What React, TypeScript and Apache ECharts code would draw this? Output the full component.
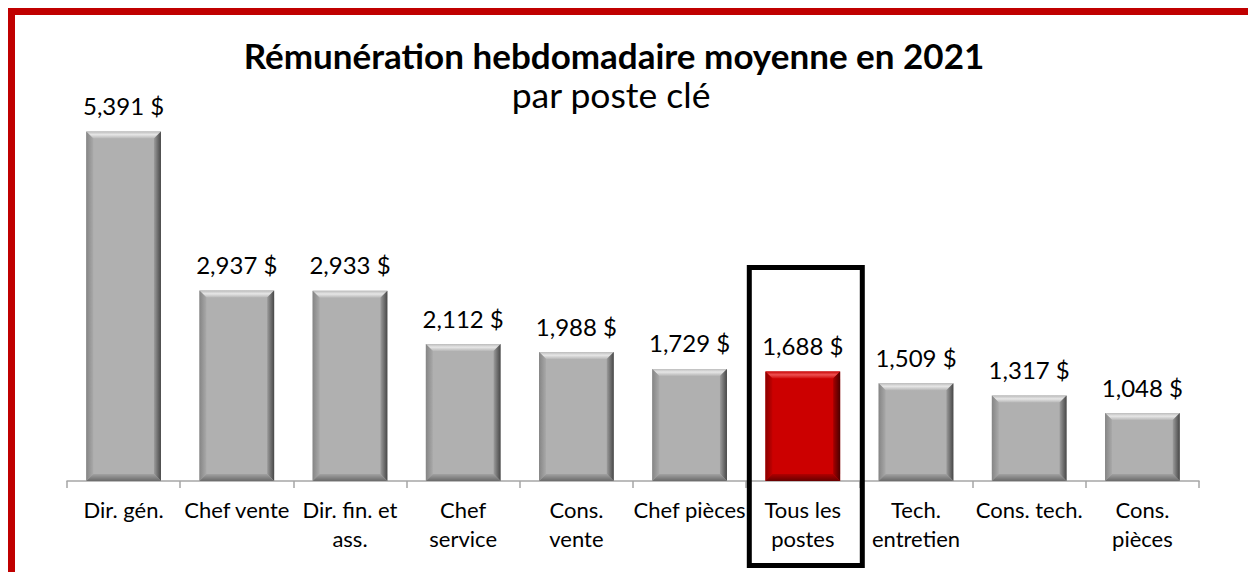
import React, { useEffect, useRef } from "react";
import * as echarts from "echarts";

const categories = [
  "Dir. gén.",
  "Chef vente",
  "Dir. fin. et\nass.",
  "Chef\nservice",
  "Cons.\nvente",
  "Chef pièces",
  "Tous les\npostes",
  "Tech.\nentretien",
  "Cons. tech.",
  "Cons.\npièces",
];
const values = [5391, 2937, 2933, 2112, 1988, 1729, 1688, 1509, 1317, 1048];
const highlightIndex = 6;
const titleText = "Rémunération hebdomadaire moyenne en 2021";
const subtitleText = "par poste clé";
const yMin = 0;
const yMax = 6000;

const FONT = "Lato, 'Noto Sans', sans-serif";

function fmt(v: number): string {
  return v.toLocaleString("en-US") + " $";
}

const LG = (x1: number, y1: number, x2: number, y2: number, stops: [number, string][]) =>
  new echarts.graphic.LinearGradient(
    x1,
    y1,
    x2,
    y2,
    stops.map(([offset, color]) => ({ offset, color }))
  );

export default function App() {
  const ref = useRef<HTMLDivElement>(null);

  useEffect(() => {
    if (!ref.current) return;
    const chart = echarts.init(ref.current, undefined, { renderer: "svg" });

    const renderItem = (params: any, api: any) => {
      const i = api.value(0) as number;
      const v = api.value(1) as number;
      const topPt = api.coord([i, v]);
      const basePt = api.coord([i, 0]);
      const band = api.size([1, 0])[0];
      const w = band * 0.66;
      const cx = topPt[0];
      const x = cx - w / 2;
      const y = topPt[1];
      const h = basePt[1] - topPt[1];
      const b = Math.min(7, h / 2);
      const red = i === highlightIndex;
      const face = red ? "#cc0000" : "#b0b0b0";
      const topG = red
        ? LG(0, 0, 0, 1, [[0, "#c80808"], [0.45, "#ee5050"], [1, "#cf0a0a"]])
        : LG(0, 0, 0, 1, [[0, "#bcbcbc"], [0.45, "#e6e6e6"], [1, "#b6b6b6"]]);
      const leftG = red
        ? LG(0, 0, 1, 0, [[0, "#8a0000"], [1, "#c20000"]])
        : LG(0, 0, 1, 0, [[0, "#858585"], [1, "#a9a9a9"]]);
      const rightG = red
        ? LG(0, 0, 1, 0, [[0, "#a80000"], [1, "#4a0000"]])
        : LG(0, 0, 1, 0, [[0, "#9c9c9c"], [1, "#474747"]]);
      const bottomG = red
        ? LG(0, 0, 0, 1, [[0, "#b00000"], [1, "#660000"]])
        : LG(0, 0, 0, 1, [[0, "#a2a2a2"], [1, "#6a6a6a"]]);

      const children: any[] = [
        { type: "rect", shape: { x, y, width: w, height: h }, style: { fill: face } },
        {
          type: "polygon",
          shape: { points: [[x, y], [x + w, y], [x + w - b, y + b], [x + b, y + b]] },
          style: { fill: topG },
        },
        {
          type: "polygon",
          shape: { points: [[x, y], [x + b, y + b], [x + b, y + h - b], [x, y + h]] },
          style: { fill: leftG },
        },
        {
          type: "polygon",
          shape: { points: [[x + w, y], [x + w, y + h], [x + w - b, y + h - b], [x + w - b, y + b]] },
          style: { fill: rightG },
        },
        {
          type: "polygon",
          shape: { points: [[x, y + h], [x + w, y + h], [x + w - b, y + h - b], [x + b, y + h - b]] },
          style: { fill: bottomG },
        },
        {
          type: "text",
          style: {
            text: fmt(v),
            x: cx,
            y: y - 26,
            align: "center",
            verticalAlign: "middle",
            fontSize: 24,
            fontFamily: FONT,
            fill: "#000000",
          },
        },
      ];
      if (red) {
        children.push({
          type: "rect",
          shape: { x: cx + 3 - 56.5, y: 267.5, width: 113, height: 298 },
          style: { fill: "none", stroke: "#000000", lineWidth: 5 },
          z2: 10,
        });
      }
      return { type: "group", children };
    };

    chart.setOption({
      animation: false,
      backgroundColor: "#ffffff",
      grid: { left: 67, right: 49, top: 92, bottom: 91 },
      xAxis: {
        type: "category",
        data: categories,
        boundaryGap: true,
        axisLine: { show: true, lineStyle: { color: "#a6a6a6", width: 1.5 } },
        axisTick: { show: true, length: 7, alignWithLabel: false, lineStyle: { color: "#a6a6a6", width: 1.5 } },
        axisLabel: {
          interval: 0,
          margin: 14,
          fontSize: 22,
          lineHeight: 29,
          fontFamily: FONT,
          color: "#000000",
        },
      },
      yAxis: {
        type: "value",
        min: yMin,
        max: yMax,
        show: false,
        splitLine: { show: false },
      },
      graphic: [
        { type: "rect", shape: { x: 8, y: 8, width: 1300, height: 7 }, style: { fill: "#c00000" } },
        { type: "rect", shape: { x: 8, y: 8, width: 7, height: 600 }, style: { fill: "#c00000" } },
        {
          type: "text",
          x: 614,
          y: 55,
          style: {
            text: titleText,
            align: "center",
            verticalAlign: "middle",
            fontSize: 35,
            fontWeight: "bold",
            fontFamily: FONT,
            fill: "#000000",
          },
        },
        {
          type: "text",
          x: 611,
          y: 94,
          style: {
            text: subtitleText,
            align: "center",
            verticalAlign: "middle",
            fontSize: 35.5,
            fontFamily: FONT,
            fill: "#000000",
          },
        },
      ],
      series: [
        {
          type: "custom",
          renderItem,
          data: values.map((v, i) => [i, v]),
          encode: { x: 0, y: 1 },
          clip: false,
        },
      ],
    });

    return () => chart.dispose();
  }, []);

  return (
    <div
      ref={ref}
      style={{ position: "absolute", left: 0, top: 0, width: 1248, height: 572, background: "#fff" }}
    />
  );
}
